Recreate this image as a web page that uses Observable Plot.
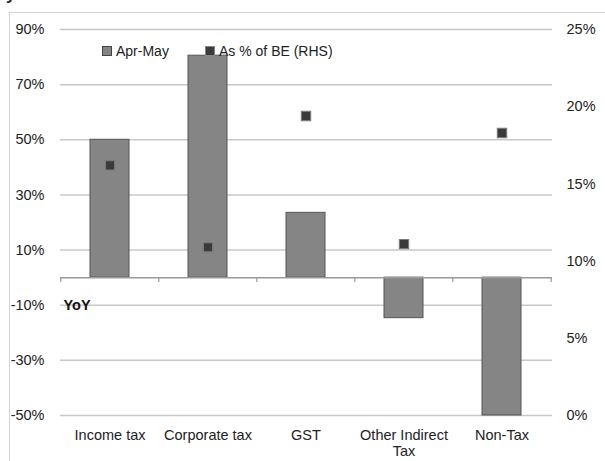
<!DOCTYPE html>
<html>
<head>
<meta charset="utf-8">
<script src="https://cdn.jsdelivr.net/npm/d3@7"></script>
<script src="https://cdn.jsdelivr.net/npm/@observablehq/plot@0.6"></script>
<style>
  html, body { margin: 0; padding: 0; background: #fff; overflow: hidden; width: 605px; height: 461px; }
  #wrap { position: relative; width: 605px; height: 461px; font-family: 'Liberation Sans', Arial, sans-serif; }
  #frame { position: absolute; left: 9px; top: 12px; width: 700px; height: 600px; border: 1px solid #d4d4d4; box-sizing: border-box; }
  #chart { position: absolute; left: 0; top: 0; }
  .lg { position: absolute; font-size: 14px; color: #222; line-height: 16px; white-space: nowrap; }
  .sw { position: absolute; width: 8px; height: 8px; }
  #frag { position: absolute; left: 6px; top: -14px; font-size: 17px; font-weight: bold; color: #222; line-height: 17px; }
</style>
</head>
<body>
<div id="wrap">
  <div id="frame"></div>
  <div id="frag">y</div>
  <div id="chart"></div>
  <div class="sw" style="left:102px; top:46px; background:#858585; border:1px solid #444;"></div>
  <div class="lg" style="left:116px; top:43px;">Apr-May</div>
  <div class="sw" style="left:205px; top:46px; background:#3a3a3a; border:1px solid #888;"></div>
  <div class="lg" style="left:219px; top:43px;">As % of BE (RHS)</div>
</div>
<script>
const categories = ["Income tax", "Corporate tax", "GST", "Other Indirect Tax", "Non-Tax"];
const yoyGrowth = [50, 80.5, 23.5, -14.7, -50];
const shareOfBE = [16.2, 10.9, 19.4, 11.1, 18.3];
const leftTicks = [-50, -30, -10, 10, 30, 50, 70, 90];
const rightTicks = [0, 5, 10, 15, 20, 25];

const leftDomain = [-50, 90];
const rightDomain = [0, 25];
const rhsToLeft = v => leftDomain[0] + (v - rightDomain[0]) * (leftDomain[1] - leftDomain[0]) / (rightDomain[1] - rightDomain[0]);
const leftToRhs = v => rightDomain[0] + (v - leftDomain[0]) * (rightDomain[1] - rightDomain[0]) / (leftDomain[1] - leftDomain[0]);

const data = categories.map((c, i) => ({cat: c, yoy: yoyGrowth[i], be: shareOfBE[i]}));
const step = (605 - 60 - 53) / categories.length;

const chart = Plot.plot({
  width: 605,
  height: 461,
  marginLeft: 60,
  marginRight: 53,
  marginTop: 29,
  marginBottom: 46,
  style: {fontFamily: "'Liberation Sans', Arial, sans-serif", fontSize: "14.5px", color: "#222", background: "transparent"},
  x: {domain: categories, paddingInner: 0.6, paddingOuter: 0.3, label: null},
  y: {domain: leftDomain, label: null},
  marks: [
    Plot.gridY(leftTicks, {stroke: "#c8c8c8", strokeOpacity: 1, strokeWidth: 1.5}),
    Plot.barY(data, {x: "cat", y: "yoy", fill: "#858585", stroke: "#555", strokeWidth: 1}),
    Plot.ruleY([0], {stroke: "#9a9a9a", strokeWidth: 1.5}),
    Plot.ruleX(categories, {x: d => d, dx: -step / 2, y1: 0, y2: -1.8, stroke: "#9a9a9a", strokeWidth: 1.2}),
    Plot.ruleX(categories.slice(-1), {x: d => d, dx: step / 2, y1: 0, y2: -1.8, stroke: "#9a9a9a", strokeWidth: 1.2}),
    Plot.axisY(leftTicks, {anchor: "left", tickSize: 0, tickPadding: 16, tickFormat: d => d + "%", label: null}),
    Plot.axisY(rightTicks.map(rhsToLeft), {anchor: "right", tickSize: 0, tickPadding: 14, tickFormat: d => Math.round(leftToRhs(d)) + "%", label: null}),
    Plot.axisX({anchor: "bottom", tickSize: 0, tickPadding: 13, lineHeight: 1.1, label: null,
      tickFormat: d => d === "Other Indirect Tax" ? "Other Indirect\nTax" : d}),
    Plot.text(["YoY"], {frameAnchor: "left", y: -10, dx: 3, fontWeight: "bold", fontSize: 14.5, fill: "#111"}),
    Plot.dot(data, {x: "cat", y: d => rhsToLeft(d.be), symbol: "square", r: 5.2, fill: "#3a3a3a", stroke: "#7a7a7a", strokeWidth: 1.2})
  ]
});
document.getElementById("chart").appendChild(chart);
</script>
</body>
</html>
